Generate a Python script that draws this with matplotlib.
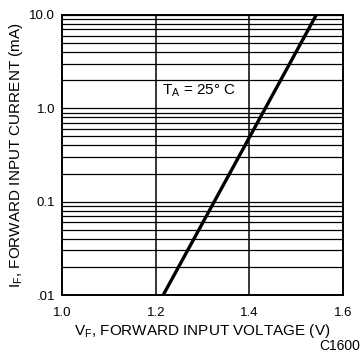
import matplotlib
matplotlib.use("Agg")
import matplotlib.pyplot as plt
from matplotlib.ticker import NullLocator

plt.rcParams['font.family'] = ['Liberation Sans', 'DejaVu Sans']
plt.rcParams['mathtext.fontset'] = 'custom'
plt.rcParams['mathtext.rm'] = 'Liberation Sans'
plt.rcParams['mathtext.it'] = 'Liberation Sans'
plt.rcParams['mathtext.default'] = 'rm'

# Data
vf = [1.216, 1.325, 1.434, 1.543]
i_f = [0.01, 0.1, 1.0, 10.0]
x_ticks = [1.0, 1.2, 1.4, 1.6]
x_tick_labels = ["1.0", "1.2", "1.4", "1.6"]
y_ticks = [0.01, 0.1, 1.0, 10.0]
y_tick_labels = [".01", "0.1", "1.0", "10.0"]

fig = plt.figure(figsize=(3.63, 3.62), dpi=100)
ax = fig.add_axes([0.171, 0.185, 0.774, 0.774])
ax.set_yscale('log')
ax.set_xlim(1.0, 1.6)
ax.set_ylim(0.01, 10.0)

# grid lines
minor = [m * 10.0 ** e for e in (-2, -1, 0) for m in range(1, 10)] + [10.0]
for y in minor:
    ax.axhline(y, color='black', lw=0.9, zorder=1)
for x in (1.2, 1.4):
    ax.axvline(x, color='black', lw=1.1, zorder=1)

ax.plot(vf, i_f, color='black', lw=2.4, zorder=3, solid_capstyle='butt')

ax.set_xticks(x_ticks)
ax.set_xticklabels(x_tick_labels)
ax.set_yticks(y_ticks)
ax.set_yticklabels(y_tick_labels)
ax.yaxis.set_minor_locator(NullLocator())
ax.tick_params(axis='both', length=0, labelsize=9.5)
ax.tick_params(axis='x', pad=8.5)
ax.tick_params(axis='y', pad=5)
for s in ax.spines.values():
    s.set_linewidth(1.4)

ax.text(1.214, 1.54, "T$_A$ = 25° C", fontsize=11, ha='left', va='center', zorder=2)

ax.set_xlabel("V$_F$, FORWARD INPUT VOLTAGE (V)", fontsize=11, labelpad=2)
ax.set_ylabel("I$_F$, FORWARD INPUT CURRENT (mA)", fontsize=11, labelpad=3)

fig.text(0.992, 0.025, "C1600", fontsize=10, ha='right', va='bottom')

fig.savefig("out.png", dpi=100)
